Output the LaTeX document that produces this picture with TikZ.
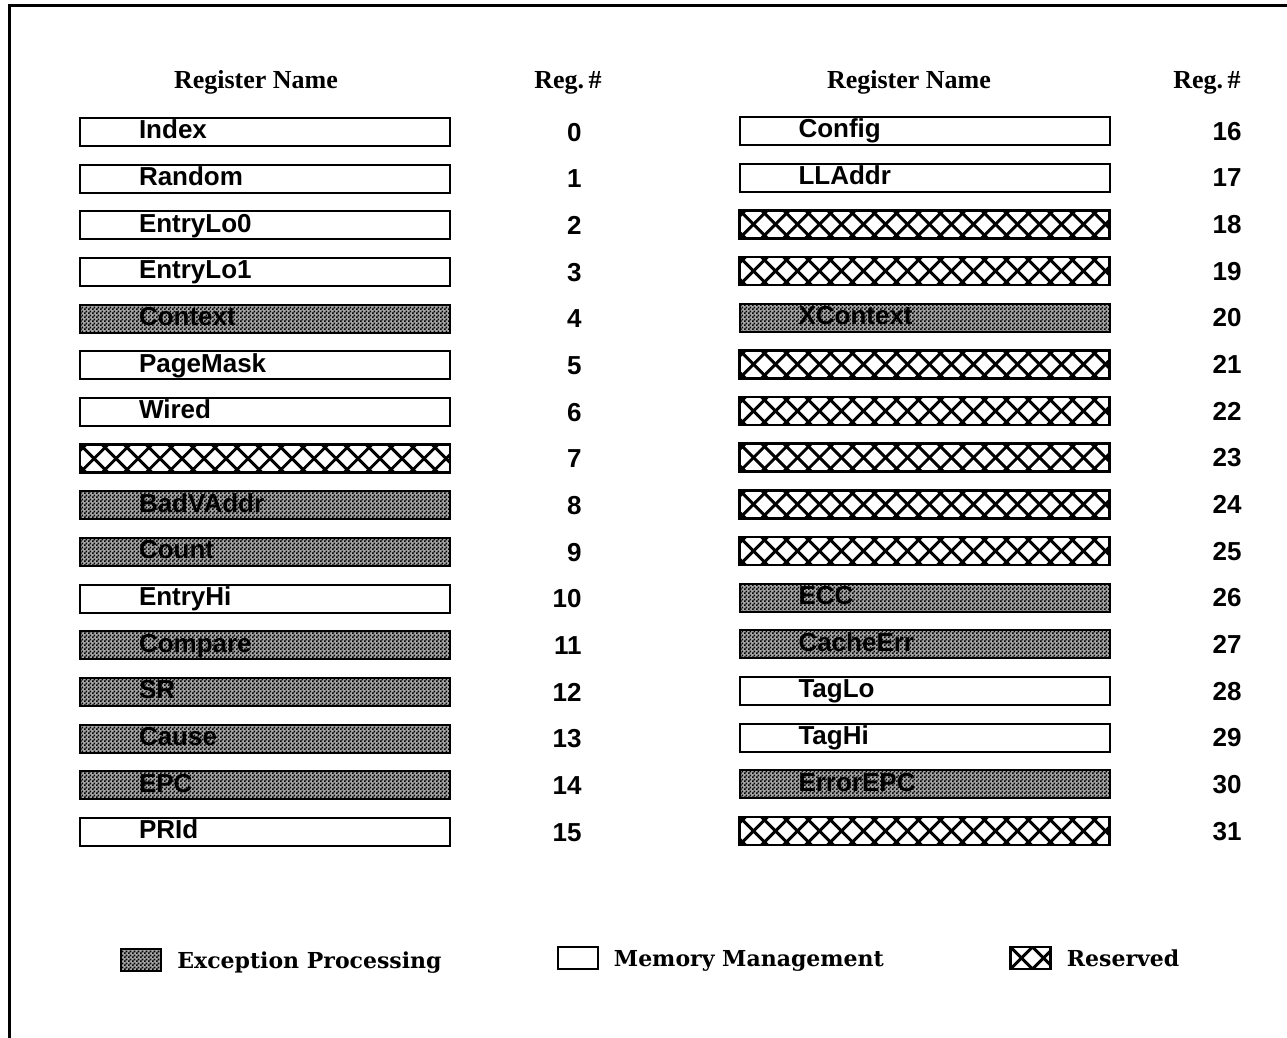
\documentclass[tikz,border=0pt]{standalone}
\usepackage{fontspec}
\setmainfont{Liberation Serif}
\setsansfont{Liberation Sans}
\newfontfamily\legendfont{DejaVu Serif}
\usepackage{tikz}
\usetikzlibrary{positioning,patterns}
% fine checker used for the exception registers
\pgfdeclarepatternformonly{regchecker}{\pgfpointorigin}{\pgfqpoint{2pt}{2pt}}{\pgfqpoint{2pt}{2pt}}{%
  \pgfpathrectangle{\pgfpointorigin}{\pgfqpoint{1pt}{1pt}}%
  \pgfpathrectangle{\pgfqpoint{1pt}{1pt}}{\pgfqpoint{1pt}{1pt}}%
  \pgfusepath{fill}}

\begin{document}
\begin{tikzpicture}[
  x=0.5pt, y=-0.5pt,
  node distance=9.33pt,
  % --- register boxes ---
  regbox/.style={draw=black, line width=1pt, outer sep=0pt, minimum width=185pt, minimum height=14pt,
    inner sep=0pt, text width=185pt, align=left, text height=7pt, text depth=0pt,
    execute at begin node=\hspace*{29.5pt},
    font=\sffamily\bfseries\fontsize{13}{13}\selectfont},
  mmbox/.style={regbox, fill=white},
  excbox/.style={regbox, preaction={fill=black!35}, pattern=regchecker},
  hatch/.style={line width=1.4pt, path picture={
    \foreach \k in {-2,...,18}{
      \draw[line width=1.5pt] ([xshift=\k*11pt]path picture bounding box.north west) -- ++(14pt,-14pt);
      \draw[line width=1.5pt] ([xshift=\k*11pt]path picture bounding box.south west) -- ++(14pt,14pt);
    }}},
  resbox/.style={regbox, hatch},
  % --- texts ---
  regnum/.style={anchor=east, inner sep=0pt, text height=9.3pt, text depth=0pt,
    font=\sffamily\bfseries\fontsize{13}{13}\selectfont},
  colhead/.style={anchor=base, inner sep=0pt, font=\bfseries\fontsize{13}{13}\selectfont},
  % --- legend ---
  swatch/.style={draw=black, line width=1pt, outer sep=0pt, minimum width=20pt, minimum height=11pt, inner sep=0pt},
  legtext/.style={inner sep=0pt, text height=8pt, text depth=0pt,
    font=\legendfont\bfseries\fontsize{11}{11}\selectfont},
]
\useasboundingbox (0,0) rectangle (1287,1038);

% frame
\draw[line width=1.5pt] (9,1038) -- (9,6) -- (1287,6);

% =================== HEADERS ===================
\node[colhead] (hdNameL) at (256,89) {Register Name};
\node[colhead] (hdNumL) at (568,89) {Reg.\,\#};
\node[colhead] (hdNameR) at (909,89) {Register Name};
\node[colhead] (hdNumR) at (1207,89) {Reg.\,\#};

\coordinate (lnum) at (582,0);
\coordinate (rnum) at (1242,0);

% =================== REGISTERS 0-15 ===================
\node[mmbox] (r0) at (265,132) {Index};
\node[mmbox, below=of r0] (r1) {Random};
\node[mmbox, below=of r1] (r2) {EntryLo0};
\node[mmbox, below=of r2] (r3) {EntryLo1};
\node[excbox, below=of r3] (r4) {Context};
\node[mmbox, below=of r4] (r5) {PageMask};
\node[mmbox, below=of r5] (r6) {Wired};
\node[resbox, below=of r6] (r7) {};
\node[excbox, below=of r7] (r8) {BadVAddr};
\node[excbox, below=of r8] (r9) {Count};
\node[mmbox, below=of r9] (r10) {EntryHi};
\node[excbox, below=of r10] (r11) {Compare};
\node[excbox, below=of r11] (r12) {SR};
\node[excbox, below=of r12] (r13) {Cause};
\node[excbox, below=of r13] (r14) {EPC};
\node[mmbox, below=of r14] (r15) {PRId};

\node[regnum] (n0) at (r0 -| lnum) {0};
\node[regnum] (n1) at (r1 -| lnum) {1};
\node[regnum] (n2) at (r2 -| lnum) {2};
\node[regnum] (n3) at (r3 -| lnum) {3};
\node[regnum] (n4) at (r4 -| lnum) {4};
\node[regnum] (n5) at (r5 -| lnum) {5};
\node[regnum] (n6) at (r6 -| lnum) {6};
\node[regnum] (n7) at (r7 -| lnum) {7};
\node[regnum] (n8) at (r8 -| lnum) {8};
\node[regnum] (n9) at (r9 -| lnum) {9};
\node[regnum] (n10) at (r10 -| lnum) {10};
\node[regnum] (n11) at (r11 -| lnum) {11};
\node[regnum] (n12) at (r12 -| lnum) {12};
\node[regnum] (n13) at (r13 -| lnum) {13};
\node[regnum] (n14) at (r14 -| lnum) {14};
\node[regnum] (n15) at (r15 -| lnum) {15};

% =================== REGISTERS 16-31 ===================
\node[mmbox] (r16) at (924.5,131) {Config};
\node[mmbox, below=of r16] (r17) {LLAddr};
\node[resbox, below=of r17] (r18) {};
\node[resbox, below=of r18] (r19) {};
\node[excbox, below=of r19] (r20) {XContext};
\node[resbox, below=of r20] (r21) {};
\node[resbox, below=of r21] (r22) {};
\node[resbox, below=of r22] (r23) {};
\node[resbox, below=of r23] (r24) {};
\node[resbox, below=of r24] (r25) {};
\node[excbox, below=of r25] (r26) {ECC};
\node[excbox, below=of r26] (r27) {CacheErr};
\node[mmbox, below=of r27] (r28) {TagLo};
\node[mmbox, below=of r28] (r29) {TagHi};
\node[excbox, below=of r29] (r30) {ErrorEPC};
\node[resbox, below=of r30] (r31) {};

\node[regnum] (n16) at (r16 -| rnum) {16};
\node[regnum] (n17) at (r17 -| rnum) {17};
\node[regnum] (n18) at (r18 -| rnum) {18};
\node[regnum] (n19) at (r19 -| rnum) {19};
\node[regnum] (n20) at (r20 -| rnum) {20};
\node[regnum] (n21) at (r21 -| rnum) {21};
\node[regnum] (n22) at (r22 -| rnum) {22};
\node[regnum] (n23) at (r23 -| rnum) {23};
\node[regnum] (n24) at (r24 -| rnum) {24};
\node[regnum] (n25) at (r25 -| rnum) {25};
\node[regnum] (n26) at (r26 -| rnum) {26};
\node[regnum] (n27) at (r27 -| rnum) {27};
\node[regnum] (n28) at (r28 -| rnum) {28};
\node[regnum] (n29) at (r29 -| rnum) {29};
\node[regnum] (n30) at (r30 -| rnum) {30};
\node[regnum] (n31) at (r31 -| rnum) {31};

% =================== LEGEND ===================
\node[swatch, preaction={fill=black!35}, pattern=regchecker] (legExc) at (141,960) {};
\node[legtext, right=8pt of legExc] (legExcT) {Exception Processing};
\node[swatch, fill=white] (legMem) at (577.5,958) {};
\node[legtext, right=8pt of legMem] (legMemT) {Memory Management};
\node[swatch, hatch] (legRes) at (1030.5,958) {};
\node[legtext, right=8pt of legRes] (legResT) {Reserved};

\end{tikzpicture}
\end{document}
